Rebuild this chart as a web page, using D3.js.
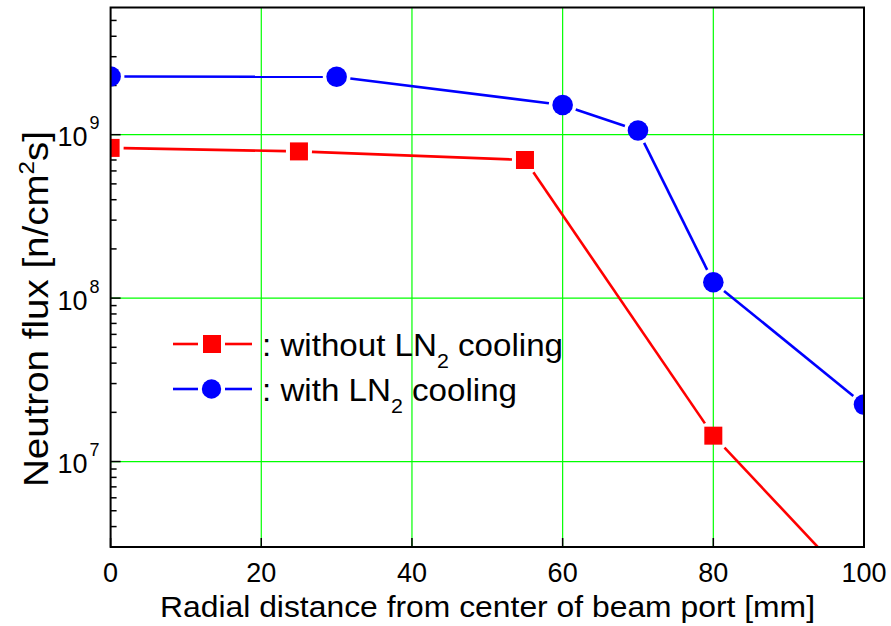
<!DOCTYPE html>
<html>
<head>
<meta charset="utf-8">
<script src="https://cdn.jsdelivr.net/npm/d3@7"></script>
<style>
  body { margin: 0; background: #fff; }
  svg text { font-family: "Liberation Sans", Arial, sans-serif; fill: #000; }
</style>
</head>
<body>
<div id="chart"></div>
<script>
// data
var radialRed = [0, 25, 55, 80, 100];
var fluxRed = [8.3e8, 7.9e8, 7.0e8, 1.44e7, 1.5e6];
var radialBlue = [0, 30, 60, 70, 80, 100];
var fluxBlue = [2.27e9, 2.26e9, 1.52e9, 1.06e9, 1.25e8, 2.23e7];
var xTicks = [0, 20, 40, 60, 80, 100];
var yDecades = [1e7, 1e8, 1e9];
var yMinor = [3e6, 4e6, 5e6, 6e6, 7e6, 8e6, 9e6, 2e7, 3e7, 4e7, 5e7, 6e7, 7e7, 8e7, 9e7,
              2e8, 3e8, 4e8, 5e8, 6e8, 7e8, 8e8, 9e8, 2e9, 3e9, 4e9, 5e9];
var decadeExp = ["7", "8", "9"];

function init() {
  var width = 891, height = 626;
  var margin = {left: 110.6, right: 27, top: 7.5, bottom: 79};
  var w = width - margin.left - margin.right;
  var h = height - margin.top - margin.bottom;

  var svg = d3.select("#chart").append("svg")
    .attr("width", width)
    .attr("height", height);

  var g = svg.append("g")
    .attr("transform", "translate(" + margin.left + "," + margin.top + ")");

  var x = d3.scaleLinear().domain([0, 100]).range([0, w]);
  var y = d3.scaleLog().domain([3e6, 6e9]).range([h, 0]);

  g.append("clipPath").attr("id", "clip")
    .append("rect").attr("width", w).attr("height", h);

  // grid
  g.selectAll(".vgrid").data(xTicks.slice(1, -1)).enter().append("line")
    .attr("x1", function(d) { return x(d); }).attr("x2", function(d) { return x(d); })
    .attr("y1", 0).attr("y2", h)
    .attr("stroke", "#00ff00").attr("stroke-width", 1.2);
  g.selectAll(".hgrid").data(yDecades).enter().append("line")
    .attr("x1", 0).attr("x2", w)
    .attr("y1", function(d) { return y(d); }).attr("y2", function(d) { return y(d); })
    .attr("stroke", "#00ff00").attr("stroke-width", 1.2);

  // ticks (inward)
  g.selectAll(".xtick").data(xTicks).enter().append("line")
    .attr("x1", function(d) { return x(d); }).attr("x2", function(d) { return x(d); })
    .attr("y1", h).attr("y2", h - 9)
    .attr("stroke", "#000").attr("stroke-width", 1.5);
  g.selectAll(".ymin").data(yMinor).enter().append("line")
    .attr("x1", 0).attr("x2", 6)
    .attr("y1", function(d) { return y(d); }).attr("y2", function(d) { return y(d); })
    .attr("stroke", "#000").attr("stroke-width", 1.5);
  g.selectAll(".ymaj").data(yDecades).enter().append("line")
    .attr("x1", 0).attr("x2", 10)
    .attr("y1", function(d) { return y(d); }).attr("y2", function(d) { return y(d); })
    .attr("stroke", "#000").attr("stroke-width", 1.5);

  var plot = g.append("g").attr("clip-path", "url(#clip)");

  // segments with a small gap around the markers
  function series(xs, ys, color, shape) {
    var pts = xs.map(function(d, i) { return [x(d), y(ys[i])]; });
    var segs = [];
    for (var i = 0; i < pts.length - 1; i++) {
      var a = pts[i], b = pts[i + 1];
      var dx = b[0] - a[0], dy = b[1] - a[1];
      var len = Math.sqrt(dx * dx + dy * dy);
      var ux = dx / len, uy = dy / len;
      var cut;
      if (shape == "square") {
        cut = 9 / Math.max(Math.abs(ux), Math.abs(uy)) + 4;
      } else {
        cut = 10.3 + 3.5;
      }
      segs.push([a[0] + ux * cut, a[1] + uy * cut, b[0] - ux * cut, b[1] - uy * cut]);
    }
    plot.selectAll(null).data(segs).enter().append("line")
      .attr("x1", function(d) { return d[0]; }).attr("y1", function(d) { return d[1]; })
      .attr("x2", function(d) { return d[2]; }).attr("y2", function(d) { return d[3]; })
      .attr("stroke", color).attr("stroke-width", 2.6);
    if (shape == "square") {
      plot.selectAll(null).data(pts).enter().append("rect")
        .attr("x", function(d) { return d[0] - 9; }).attr("y", function(d) { return d[1] - 9; })
        .attr("width", 18).attr("height", 18)
        .attr("fill", color);
    } else {
      plot.selectAll(null).data(pts).enter().append("circle")
        .attr("cx", function(d) { return d[0]; }).attr("cy", function(d) { return d[1]; })
        .attr("r", 10.3)
        .attr("fill", color);
    }
  }
  series(radialRed, fluxRed, "#ff0000", "square");
  series(radialBlue, fluxBlue, "#0000ff", "circle");

  // frame
  g.append("rect").attr("width", w).attr("height", h)
    .attr("fill", "none").attr("stroke", "#000").attr("stroke-width", 2);

  // x tick labels
  g.selectAll(".xlab").data(xTicks).enter().append("text")
    .attr("x", function(d) { return x(d); })
    .attr("y", h + 35)
    .attr("text-anchor", "middle")
    .style("font-size", "27px")
    .text(function(d) { return d; });

  // y tick labels 10^n
  var yl = g.selectAll(".ylab").data(yDecades).enter().append("text")
    .attr("x", -11)
    .attr("y", function(d) { return y(d) + 11.5; })
    .attr("text-anchor", "end")
    .style("font-size", "27px");
  yl.append("tspan").text("10");
  yl.append("tspan").attr("dy", -17).style("font-size", "18px")
    .attr("dx", 2)
    .text(function(d, i) { return decadeExp[i]; });

  // axis titles
  svg.append("text")
    .attr("x", 160).attr("y", 617)
    .attr("textLength", 655).attr("lengthAdjust", "spacingAndGlyphs")
    .style("font-size", "30px")
    .text("Radial distance from center of beam port [mm]");

  var yt = svg.append("text")
    .attr("transform", "translate(48,487) rotate(-90)")
    .attr("textLength", 356).attr("lengthAdjust", "spacingAndGlyphs")
    .style("font-size", "35px");
  yt.append("tspan").text("Neutron flux [n/cm");
  yt.append("tspan").attr("dy", -14).style("font-size", "22px").text("2");
  yt.append("tspan").attr("dy", 14).text("s]");

  // legend
  var legend = [
    {color: "#ff0000", shape: "square", pre: ": without LN", post: " cooling", ly: 344, ty: 356, tw: 301},
    {color: "#0000ff", shape: "circle", pre: ": with LN", post: " cooling", ly: 389, ty: 401, tw: 255}
  ];
  legend.forEach(function(d) {
    svg.append("line").attr("x1", 173).attr("x2", 198).attr("y1", d.ly).attr("y2", d.ly)
      .attr("stroke", d.color).attr("stroke-width", 2.6);
    svg.append("line").attr("x1", 225).attr("x2", 252).attr("y1", d.ly).attr("y2", d.ly)
      .attr("stroke", d.color).attr("stroke-width", 2.6);
    if (d.shape == "square") {
      svg.append("rect").attr("x", 203).attr("y", d.ly - 9).attr("width", 18).attr("height", 18)
        .attr("fill", d.color);
    } else {
      svg.append("circle").attr("cx", 211.5).attr("cy", d.ly).attr("r", 9.7).attr("fill", d.color);
    }
    var t = svg.append("text").attr("x", 262).attr("y", d.ty)
      .attr("textLength", d.tw).attr("lengthAdjust", "spacingAndGlyphs")
      .style("font-size", "31px");
    t.append("tspan").text(d.pre);
    t.append("tspan").attr("dy", 12).style("font-size", "20px").text("2");
    t.append("tspan").attr("dy", -12).text(d.post);
  });
}

window.onload = init;
</script>
</body>
</html>
